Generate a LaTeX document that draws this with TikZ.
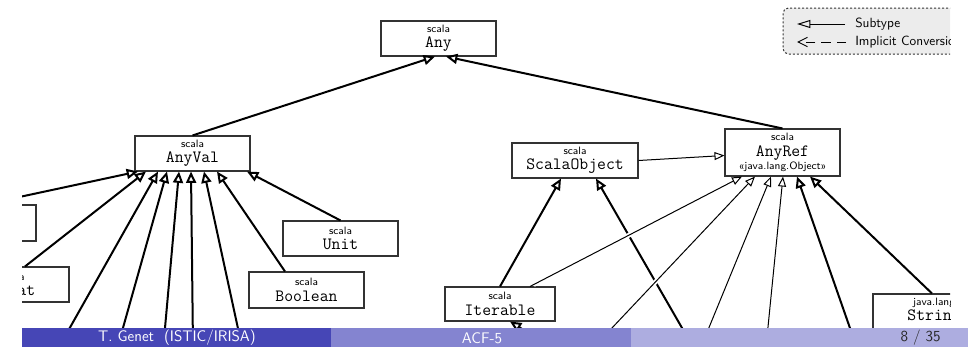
\documentclass[tikz,border=0pt]{standalone}
\usepackage{fontspec}
\usetikzlibrary{arrows.meta,calc}

\definecolor{barA}{RGB}{70,70,182}
\definecolor{barB}{RGB}{132,132,208}
\definecolor{barC}{RGB}{173,173,224}
\definecolor{legendfill}{RGB}{236,236,236}

\newcommand{\tname}[1]{{\ttfamily\fontsize{12.9}{13}\selectfont #1}}

\tikzset{
  cls/.style 2 args={draw=black!80, line width=0.8pt, fill=white, inner sep=0pt,
    align=center, minimum width=#1*0.75pt, minimum height=#2*0.75pt,
    font=\sffamily\fontsize{8}{11.6}\selectfont},
  subT/.style={line width=1.5pt, -{Triangle[fill=white,length=8.5pt,width=7.5pt]}},
  subt/.style={line width=0.75pt, -{Triangle[fill=white,length=7.5pt,width=6pt]},
    preaction={draw=white, line width=3.5pt, -, shorten <=3pt, shorten >=16pt}},
  legtext/.style={anchor=west, inner sep=0pt, font=\sffamily\fontsize{10}{10}\selectfont},
  foot/.style={inner sep=0pt, font=\sffamily\fontsize{11.5}{12}\selectfont}
}

\begin{document}
\begin{tikzpicture}[x=0.75pt, y=-0.75pt]
\useasboundingbox (0,0) rectangle (968,347);

\begin{scope}
\clip (22,0) rectangle (950,328);

% legend
\draw[draw=black!80, line width=0.75pt, dash pattern=on 1.5pt off 1.5pt,
      fill=legendfill, rounded corners=4pt] (783,8) rectangle (1010,54);
\coordinate (ls1) at (845,24);
\coordinate (ls2) at (797,24);
\coordinate (li1) at (846,42);
\coordinate (li2) at (797,42);
\draw[line width=0.75pt, -{Triangle[open,length=10pt,width=6pt]}] (ls1) -- (ls2);
\draw[line width=0.75pt, dash pattern=on 7pt off 4.5pt,
      -{Straight Barb[length=7pt,width=7pt]}] (li1) -- (li2);
\node[legtext] (lsub) at (855,24) {Subtype};
\node[legtext] (limp) at (855,42) {Implicit Conversion};

% classes
\node[cls={115}{35}] (any) at (438.5,38.5) {scala\\\tname{Any}};
\node[cls={115}{35}] (anyval) at (192.5,153.5) {scala\\\tname{AnyVal}};
\node[cls={126}{35}] (scalaobj) at (575,160.5) {scala\\\tname{ScalaObject}};
\node[cls={115}{47}] (anyref) at (782.5,152.5) {scala\\\tname{AnyRef}\\[-1.6pt]«java.lang.Object»};
\node[cls={115}{35}] (unit) at (340.5,238.5) {scala\\\tname{Unit}};
\node[cls={115}{36}] (boolean) at (306.5,290) {scala\\\tname{Boolean}};
\node[cls={115}{36}] (double) at (-21.5,223) {};
\node[cls={112}{35}] (float) at (13,284.5) {scala\\\tname{Float}};
\node[cls={110}{34}] (iterable) at (500,304) {scala\\\tname{Iterable}};
\node[cls={122}{35}] (string) at (934,311.5) {java.lang\\\tname{String}};

% ends of connectors that run out of the frame
\coordinate (eL) at (-100,222.6);
\coordinate (eA) at (59,347);
\coordinate (eB) at (117.6,347);
\coordinate (eC) at (163.3,347);
\coordinate (eD) at (193,347);
\coordinate (eE) at (242,347);
\coordinate (eIt) at (548,345);
\coordinate (eS) at (693,347);
\coordinate (eR1) at (594,347);
\coordinate (eR2) at (701,347);
\coordinate (eR3) at (766,347);
\coordinate (eR4) at (856.6,347);

% subtype edges (thick)
\draw[subT] (anyval.north) -- ($(any.south)+(-3.5,0)$);
\draw[subT] (anyref.north) -- ($(any.south)+(7.5,0)$);

\draw[subT] (eL) -- ($(anyval.south)+(-54.5,0)$);
\draw[subT] ($(float.north)+(12,0)$) -- ($(anyval.south)+(-46.5,0)$);
\draw[subT] (eA) -- ($(anyval.south)+(-34.5,0)$);
\draw[subT] (eB) -- ($(anyval.south)+(-25.5,0)$);
\draw[subT] (eC) -- ($(anyval.south)+(-13.5,0)$);
\draw[subT] (eD) -- ($(anyval.south)+(-1.5,0)$);
\draw[subT] (eE) -- ($(anyval.south)+(11.5,0)$);
\draw[subT] ($(boolean.north)+(-21.5,0)$) -- ($(anyval.south)+(24.5,0)$);
\draw[subT] (unit.north) -- ($(anyval.south)+(54.5,0)$);

\draw[subT] (iterable.north) -- ($(scalaobj.south)+(-14,0)$);
\draw[subT] (eS) -- ($(scalaobj.south)+(21,0)$);
\draw[subT] (eIt) -- ($(iterable.south)+(10,0)$);

\draw[subT] (eR4) -- ($(anyref.south)+(14.5,0)$);
\draw[subT] ($(string.north)+(-2,0)$) -- ($(anyref.south)+(27.5,0)$);

% subtype edges (thin)
\draw[subt] (scalaobj.east) -- ($(anyref.west)+(0,3)$);
\draw[subt] ($(iterable.north)+(30,0)$) -- ($(anyref.south)+(-40.5,0)$);
\draw[subt] (eR1) -- ($(anyref.south)+(-27.5,0)$);
\draw[subt] (eR2) -- ($(anyref.south)+(-11.5,0)$);
\draw[subt] (eR3) -- ($(anyref.south)+(0.5,0)$);
\end{scope}

% footline
\fill[barA] (22,328) rectangle (331,347);
\fill[barB] (331,328) rectangle (631,347);
\fill[barC] (631,328) rectangle (968,347);
\node[foot, text=white] (author) at (177,338) {T. Genet~~(ISTIC/IRISA)};
\node[foot, text=white] (title) at (482,338) {ACF-5};
\node[foot, text=black!85, anchor=east] (page) at (941,338) {8 / 35};
\end{tikzpicture}
\end{document}
